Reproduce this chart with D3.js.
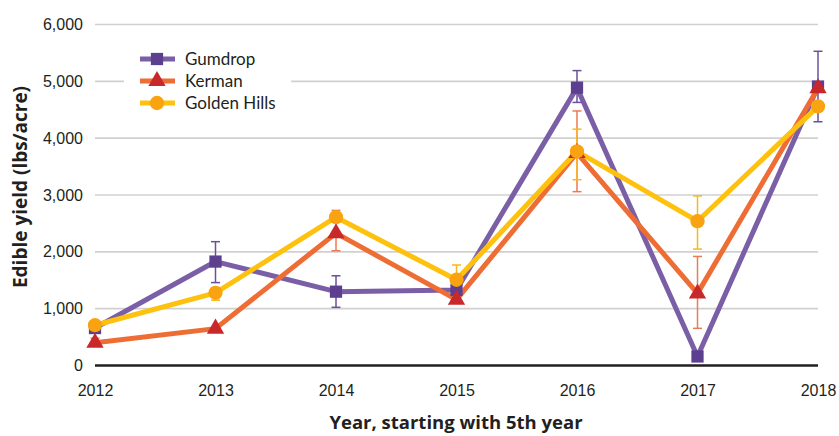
<!DOCTYPE html>
<html><head><meta charset="utf-8">
<script src="https://cdn.jsdelivr.net/npm/d3@7"></script>
<style>body{margin:0;background:#fff;} svg{display:block;font-family:Lato,"Open Sans",sans-serif;}</style>
</head><body>
<svg id="c" width="839" height="436"></svg>
<script>
const years = [2012, 2013, 2014, 2015, 2016, 2017, 2018];
const seriesNames = ["Gumdrop", "Kerman", "Golden Hills"];
const gumdrop   = [650, 1820, 1290, 1320, 4880, 150, 4900];
const gumdropLo = [580, 1450, 1015, null, 4620, null, 4280];
const gumdropHi = [720, 2170, 1570, null, 5180, null, 5520];
const kerman    = [390, 640, 2320, 1150, 3730, 1260, 4870];
const kermanLo  = [330, null, 2010, null, 3050, 645, null];
const kermanHi  = [470, null, 2720, null, 4470, 1910, null];
const golden    = [700, 1270, 2600, 1500, 3760, 2530, 4550];
const goldenLo  = [null, 1140, null, 1250, 3260, 2040, null];
const goldenHi  = [null, 1350, null, 1760, 4150, 2975, null];
const yTicks = [0, 1000, 2000, 3000, 4000, 5000, 6000];

const svg = d3.select("#c");
const x = d3.scaleLinear().domain([2012, 2018]).range([95, 818]);
const y = d3.scaleLinear().domain([0, 6000]).range([365, 24]);

const series = [
  {name: seriesNames[0], v: gumdrop, lo: gumdropLo, hi: gumdropHi, line: "#7a5fa6", mark: "#5d3f90", err: "#6b4f9c", sym: d3.symbolSquare, size: 150},
  {name: seriesNames[1], v: kerman, lo: kermanLo, hi: kermanHi, line: "#ee6d35", mark: "#c9282b", err: "#ee7a50", sym: d3.symbolTriangle, size: 130},
  {name: seriesNames[2], v: golden, lo: goldenLo, hi: goldenHi, line: "#fec10e", mark: "#f8a30f", err: "#f8b81a", sym: d3.symbolCircle, size: 160}
];

// gridlines
const yAxis = d3.axisLeft(y).tickValues(yTicks).tickSize(-(818 - 95)).tickFormat(d3.format(","));
const gy = svg.append("g").attr("transform", "translate(95,0)").call(yAxis);
gy.select(".domain").remove();
gy.selectAll(".tick line").attr("stroke", "#d0d0d0").attr("stroke-width", 1.6);
gy.selectAll(".tick text").attr("x", -12).attr("font-size", 16).attr("fill", "#231f20").attr("dy", "0.35em");
gy.selectAll(".tick").filter(d => d === 0).select("line").attr("stroke", "#231f20").attr("stroke-width", 2.6);

const xAxis = d3.axisBottom(x).tickValues(years).tickFormat(d3.format("d")).tickSize(0);
const gx = svg.append("g").attr("transform", "translate(0,365)").call(xAxis);
gx.select(".domain").remove();
gx.selectAll(".tick text").attr("y", 20).attr("font-size", 16).attr("fill", "#231f20");

// axis titles
svg.append("text").attr("x", 456).attr("y", 429).attr("text-anchor", "middle")
  .attr("font-family", "'Open Sans', sans-serif")
  .attr("font-size", 18.5).attr("font-weight", "bold").attr("fill", "#231f20").text("Year, starting with 5th year");
svg.append("text").attr("transform", "translate(27,187) rotate(-90)").attr("text-anchor", "middle")
  .attr("font-family", "'Open Sans', sans-serif")
  .attr("font-size", 19).attr("font-weight", "bold").attr("fill", "#231f20").text("Edible yield (lbs/acre)");

// lines
const line = d3.line().x((d, i) => x(years[i])).y(d => y(d));
series.forEach(s => {
  svg.append("path").datum(s.v).attr("d", line).attr("fill", "none")
    .attr("stroke", s.line).attr("stroke-width", 5).attr("stroke-linejoin", "round");
});
// error bars
series.forEach(s => {
  const g = svg.append("g").attr("stroke", s.err).attr("stroke-width", 1.5);
  years.forEach((yr, i) => {
    if (s.lo[i] == null) return;
    const cx = x(yr);
    g.append("line").attr("x1", cx).attr("x2", cx).attr("y1", y(s.lo[i])).attr("y2", y(s.hi[i]));
    g.append("line").attr("x1", cx - 4.5).attr("x2", cx + 4.5).attr("y1", y(s.lo[i])).attr("y2", y(s.lo[i]));
    g.append("line").attr("x1", cx - 4.5).attr("x2", cx + 4.5).attr("y1", y(s.hi[i])).attr("y2", y(s.hi[i]));
  });
});
// markers
series.forEach(s => {
  svg.append("g").selectAll("path").data(s.v).join("path")
    .attr("d", d3.symbol().type(s.sym).size(s.size))
    .attr("transform", (d, i) => `translate(${x(years[i])},${y(d)})`)
    .attr("fill", s.mark);
});

// legend
const lg = svg.append("g");
lg.append("rect").attr("x", 124).attr("y", 44).attr("width", 167).attr("height", 72).attr("fill", "#fff");
series.forEach((s, i) => {
  const cy = 59 + i * 22;
  lg.append("line").attr("x1", 140).attr("x2", 175).attr("y1", cy).attr("y2", cy)
    .attr("stroke", s.line).attr("stroke-width", 5);
  lg.append("path").attr("d", d3.symbol().type(s.sym).size(s.size)).attr("transform", `translate(157,${cy})`).attr("fill", s.mark);
  lg.append("text").attr("x", 185).attr("y", cy).attr("dy", "0.35em").attr("font-size", 17).attr("fill", "#231f20").text(s.name);
});
</script>
</body></html>
